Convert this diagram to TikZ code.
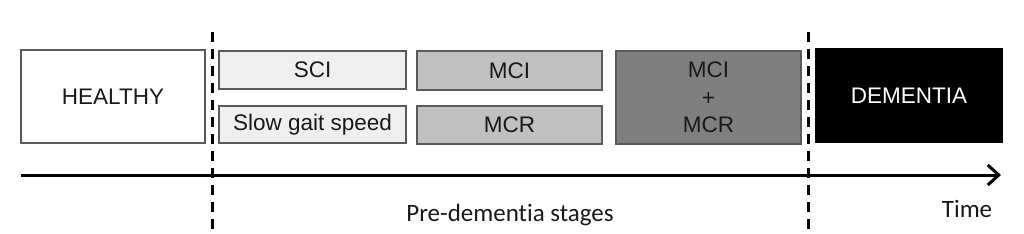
\documentclass[tikz,border=0pt]{standalone}
\usepackage{fontspec}
\setmainfont{Liberation Sans}
\newfontfamily\calfont[Ligatures=NoCommon]{Carlito}
\usetikzlibrary{arrows.meta}
\definecolor{boxedge}{HTML}{5A5A5A}
\definecolor{lightfill}{HTML}{EFEFEF}
\definecolor{midfill}{HTML}{C0C0C0}
\definecolor{darkfill}{HTML}{7F7F7F}
\tikzset{
  stage/.style={draw=boxedge, line width=1.2pt, rectangle, inner sep=0pt, align=center,
     font=\fontsize{22.5}{27}\selectfont, text=black!90},
  divider/.style={line width=3pt, dash pattern=on 10pt off 7pt},
  axisline/.style={line width=3pt, -{Straight Barb[length=11pt,width=20pt,line width=3pt]}},
  lbl/.style={font=\calfont\fontsize{25}{28}\selectfont, text=black!90, inner sep=0pt}
}
\begin{document}
\begin{tikzpicture}[x=1pt,y=-1pt]
\useasboundingbox (0,0) rectangle (1024,233);
\fill[white] (0,0) rectangle (1024,233);
\node[stage, fill=white, minimum width=184pt, minimum height=93pt] (healthy) at (113,96.5) {HEALTHY};
\node[stage, fill=lightfill, minimum width=187pt, minimum height=38pt] (sci) at (312.5,70) {SCI};
\node[stage, fill=lightfill, minimum width=187pt, minimum height=37pt] (gait) at (312.5,124.5) {Slow gait speed};
\node[stage, fill=midfill, minimum width=185pt, minimum height=39pt] (mci) at (509.5,70.5) {MCI};
\node[stage, fill=midfill, minimum width=185pt, minimum height=38pt] (mcr) at (509.5,125) {MCR};
\node[stage, fill=darkfill, minimum width=185pt, minimum height=93pt, font=\fontsize{22.5}{27.5}\selectfont] (mcimcr) at (708.5,97.5) {MCI\\+\\MCR};
\node[stage, fill=black, draw=black, text=white, minimum width=186pt, minimum height=93pt] (dementia) at (909,95.5) {DEMENTIA};
\coordinate (d1top) at (212,32);
\coordinate (d1bot) at (212,233);
\coordinate (d2top) at (808,32);
\coordinate (d2bot) at (808,233);
\draw[divider] (d1top) -- (d1bot);
\draw[divider] (d2top) -- (d2bot);
\coordinate (axstart) at (21,175);
\coordinate (axend) at (1001,175);
\draw[axisline] (axstart) -- (axend);
\node[lbl] (pre) at (510,215) {Pre-dementia stages};
\node[lbl] (time) at (967,209) {Time};
\end{tikzpicture}
\end{document}
